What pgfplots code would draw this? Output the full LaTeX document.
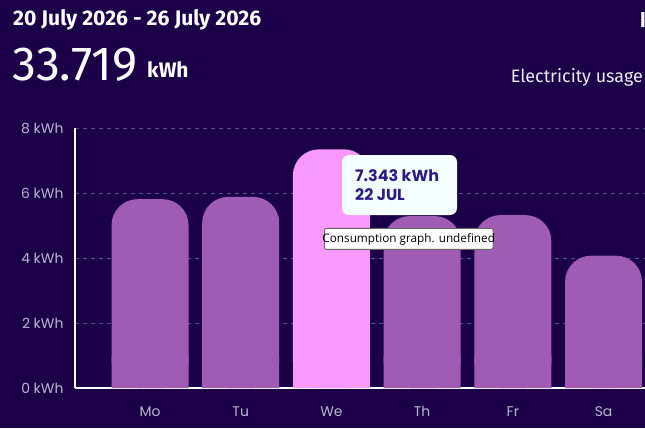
\documentclass[border=0pt]{standalone}
\usepackage{fontspec}
\setmainfont{Fira Sans}
\newfontfamily\pop{Poppins}
\newfontfamily\ops{Open Sans}
\usepackage{pgfplots}
\pgfplotsset{compat=1.18}
\definecolor{bg}{HTML}{1B0048}
\definecolor{barc}{HTML}{A05CB5}
\definecolor{hi}{HTML}{F799FE}
\definecolor{tip}{HTML}{F2FFFE}
\definecolor{tiptext}{HTML}{2F1C82}
\definecolor{gridc}{HTML}{5D4B8F}
\definecolor{ticktext}{HTML}{BDB6D2}
\begin{document}
\begin{tikzpicture}[x=1bp,y=1bp]
\fill[bg] (0,0) rectangle (645,428);
\useasboundingbox (0,0) rectangle (645,428);
\begin{scope}
\clip (0,0) rectangle (645,428);
\node[anchor=base west, inner sep=0, text=white] at (13,402) {\bfseries\fontsize{21.2}{21.2}\selectfont 20 July 2026 - 26 July 2026};
\node[anchor=base west, inner sep=0, text=white] at (12,348) {\fontsize{48}{48}\selectfont 33.719};
\node[anchor=base west, inner sep=0, text=white] at (147,351) {\bfseries\fontsize{21}{21}\selectfont kWh};
\node[anchor=base west, inner sep=0, text=white] at (640,400) {\bfseries\fontsize{20}{20}\selectfont kWh};
\node[anchor=base east, inner sep=0, text=white!92!bg] at (643,346) {\fontsize{18}{18}\selectfont Electricity usage};
\begin{axis}[
  at={(75bp,40bp)}, anchor=south west, scale only axis,
  width=570bp, height=260bp,
  xmin=-0.827, xmax=5.457, ymin=0, ymax=8,
  axis x line=bottom, axis y line=left,
  axis line style={white, line width=1.4bp, -},
  ytick={0,2,4,6,8}, yticklabels={0 kWh,2 kWh,4 kWh,6 kWh,8 kWh},
  xtick={0,1,2,3,4,5}, xticklabels={Mo,Tu,We,Th,Fr,Sa},
  major tick length=0,
  ymajorgrids,
  grid style={gridc, line width=0.8bp, dash pattern=on 4bp off 4bp},
  tick label style={font=\pop\fontsize{14}{14}\selectfont, text=ticktext},
  yticklabel style={xshift=-8bp},
  xticklabel style={yshift=-15bp},
]
\addplot[ybar, bar width=0.849, bar shift=0pt, fill=barc, draw=none, rounded corners=26bp] coordinates {(0,5.81) (1,5.88) (3,5.29) (4,5.32) (5,4.07)};
\addplot[ybar, bar width=0.849, bar shift=0pt, fill=barc, draw=none] coordinates {(0,1) (1,1) (3,1) (4,1) (5,1)};
\addplot[ybar, bar width=0.849, bar shift=0pt, fill=hi, draw=none, rounded corners=26bp] coordinates {(2,7.343)};
\addplot[ybar, bar width=0.849, bar shift=0pt, fill=hi, draw=none] coordinates {(2,1)};
\end{axis}
\fill[tip, rounded corners=7bp] (342,213) rectangle (457,273);
\node[anchor=base west, inner sep=0, text=tiptext] at (355,247) {\pop\bfseries\fontsize{16}{16}\selectfont 7.343 kWh};
\node[anchor=base west, inner sep=0, text=tiptext] at (355,228) {\pop\bfseries\fontsize{16}{16}\selectfont 22 JUL};
\draw[gray!80!black, fill=white, rounded corners=2bp, line width=0.9bp] (324.5,178.7) rectangle (493,199.7);
\node[inner sep=0, text=black] at (408.7,189) {\ops\fontsize{11.8}{11.8}\selectfont Consumption graph. undefined};
\end{scope}
\end{tikzpicture}
\end{document}
